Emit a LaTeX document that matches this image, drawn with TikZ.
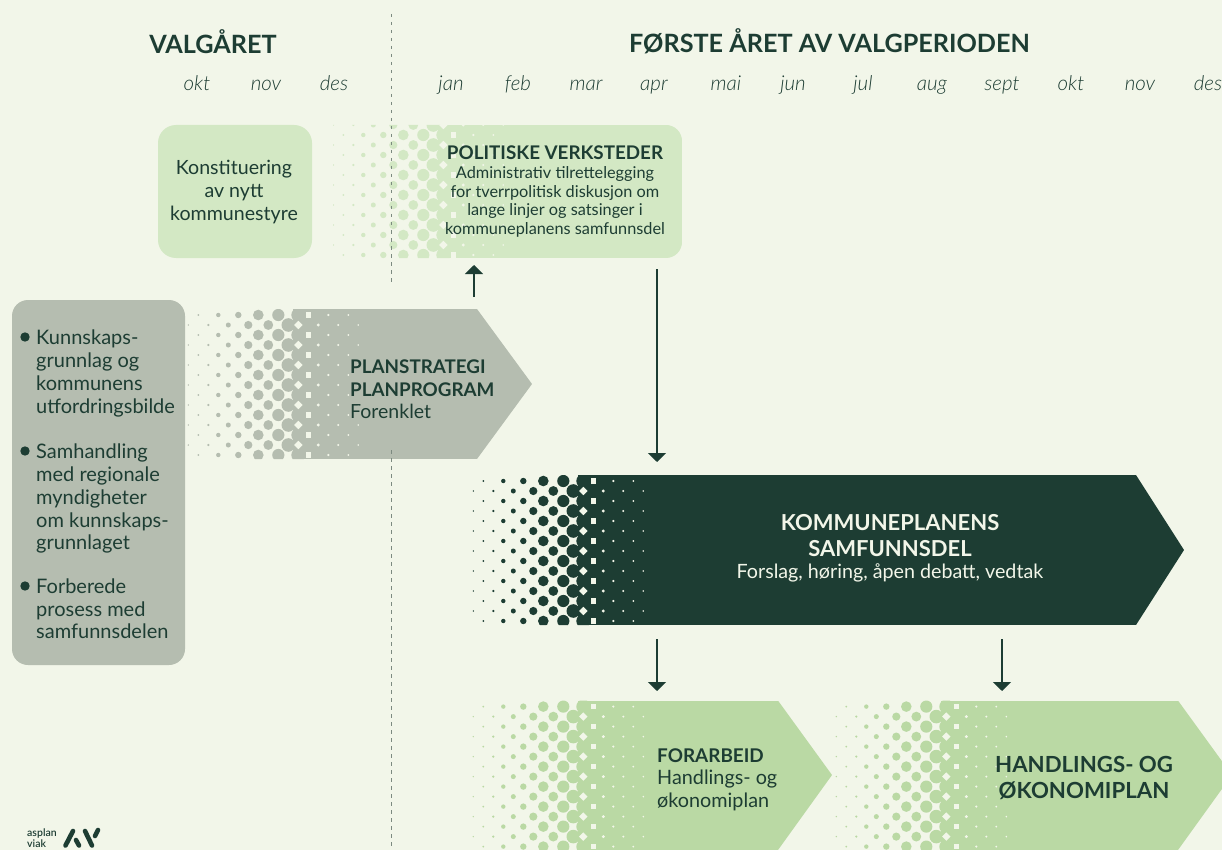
\documentclass[tikz,border=0pt]{standalone}
\usepackage{fontspec}
\setmainfont{Lato}
\newfontfamily\lightit{Lato Light Italic}
\newfontfamily\semib{Lato Semibold}
\usetikzlibrary{arrows.meta}
\definecolor{bgc}{HTML}{F2F6E9}
\definecolor{darkc}{HTML}{1D3D33}
\definecolor{grayc}{HTML}{B5BDB0}
\definecolor{lightc}{HTML}{D3E8C4}
\definecolor{midc}{HTML}{BAD9A4}
\definecolor{dashc}{HTML}{7C8A80}
\newcommand{\fs}[2]{\fontsize{#1}{#2}\selectfont}
% x0, first row y, rows, parity, colour
\newcommand{\halftone}[5]{%
  \foreach \i/\r in {0/.8,1/1,2/1.2,3/2.2,4/2.5,5/3.2,6/4.1,7/5.3,8/4.9,9/6.1,10/6.8,11/7}{%
    \foreach \j in {0,...,\numexpr#3-1\relax}{%
      \pgfmathtruncatemacro{\p}{mod(\i+\j+#4,2)}%
      \ifnum\p=1 \fill[#5] ({#1+10*\i},{#2+10*\j}) circle[radius=\r];\fi
    }%
  }%
  \foreach \i/\h in {11/4.2,12/2.6,13/1.6,14/1.2,15/1.1,16/1,17/.9}{%
    \foreach \j in {0,...,\numexpr#3-1\relax}{%
      \pgfmathtruncatemacro{\p}{mod(\i+\j+#4,2)}%
      \ifnum\p=0
        \pgfmathsetmacro{\cx}{#1+10*\i}\pgfmathsetmacro{\cy}{#2+10*\j}%
        \ifnum\i=11
          \fill[bgc] (\cx,\cy-\h) .. controls (\cx+2.2,\cy-2.2) .. (\cx+\h,\cy) .. controls (\cx+2.2,\cy+2.2) .. (\cx,\cy+\h) .. controls (\cx-2.2,\cy+2.2) .. (\cx-\h,\cy) .. controls (\cx-2.2,\cy-2.2) .. (\cx,\cy-\h) -- cycle;
        \else
          \ifnum\i=12 \fill[bgc] (\cx-\h,\cy-\h) rectangle (\cx+\h,\cy+\h);
          \else \fill[bgc] (\cx,\cy) circle[radius=\h];\fi
        \fi
      \fi
    }%
  }%
}
\tikzset{
  txt/.style={inner sep=0pt,text=darkc},
  conn/.style={draw=darkc,line width=1.5pt,-{Triangle[width=18pt,length=9pt]}},
  vline/.style={draw=dashc,line width=1.5pt,dash pattern=on 3.5pt off 4.5pt},
  month/.style={txt,anchor=base,font=\fs{20.5}{24}\lightit},
  head/.style={txt,font=\fs{25.2}{30}\bfseries},
  logostroke/.style={draw=darkc,line width=4.6pt,line cap=round},
}
\begin{document}
\begin{tikzpicture}[x=1pt,y=-1pt]
\useasboundingbox (0,0) rectangle (1222,850);
\fill[bgc] (0,0) rectangle (1222,850);

% Konstituering box
\node[fill=lightc,rounded corners=18pt,minimum width=154pt,minimum height=133pt,inner sep=0pt] (konstbox) at (235,191.5) {};
\node[txt,align=center,font=\fs{19.6}{22.6}] (konst) at (234,192) {Konstituering\\av nytt\\kommunestyre};

% Politiske verksteder
\begin{scope}
  \clip (333,125) -- (666,125) arc[start angle=-90,end angle=0,radius=16] -- (682,242) arc[start angle=0,end angle=90,radius=16] -- (333,258) -- cycle;
  \fill[lightc] (438,125) rectangle (682,258);
  \halftone{333.3}{125}{14}{1}{lightc}
\end{scope}
\node[txt,font=\fs{18.8}{22}\bfseries] (pvh) at (555,153) {POLITISKE VERKSTEDER};
\node[txt,align=center,font=\fs{16.3}{18.7}] (pvb) at (555,202) {Administrativ tilrettelegging\\for tverrpolitisk diskusjon om\\lange linjer og satsinger i\\kommuneplanens samfunnsdel};

% Left box
\node[fill=grayc,rounded corners=16pt,minimum width=173pt,minimum height=365pt,inner sep=0pt] (leftbox) at (98.5,482.5) {};
\fill[darkc] (25,337) circle[radius=4.7];
\fill[darkc] (25,451) circle[radius=4.7];
\fill[darkc] (25,586) circle[radius=4.7];
\node[txt,anchor=north west,align=left,font=\fs{20}{22.7}] (b1) at (36,330) {Kunnskaps-\\grunnlag og\\kommunens\\utfordringsbilde};
\node[txt,anchor=north west,align=left,font=\fs{20}{22.7}] (b2) at (36,444) {Samhandling\\med regionale\\myndigheter\\om kunnskaps-\\grunnlaget};
\node[txt,anchor=north west,align=left,font=\fs{20}{22.7}] (b3) at (36,578.5) {Forberede\\prosess med\\samfunnsdelen};

% Planstrategi arrow
\begin{scope}
  \clip (180,309) -- (477,309) -- (532,384) -- (477,459) -- (180,459) -- cycle;
  \fill[grayc] (293.3,309) rectangle (532,459);
  \halftone{188.3}{315}{15}{0}{grayc}
\end{scope}
\node[txt,anchor=west,align=left,font=\fs{19.5}{22.6}] (plan) at (350,389.5) {{\fontsize{18.8}{22.6}\selectfont\bfseries PLANSTRATEGI}\\{\fontsize{18.8}{22.6}\selectfont\bfseries PLANPROGRAM}\\Forenklet};

% Kommuneplanens samfunnsdel arrow
\begin{scope}
  \clip (465,475) -- (1136,475) -- (1184,550) -- (1136,625) -- (465,625) -- cycle;
  \fill[darkc] (578.3,475) rectangle (1184,625);
  \halftone{473.3}{481}{15}{0}{darkc}
\end{scope}
\node[text=bgc,inner sep=0pt,align=center,font=\fs{22}{26}\bfseries] (kp) at (890,536) {KOMMUNEPLANENS\\SAMFUNNSDEL};
\node[text=bgc,inner sep=0pt,font=\fs{19.7}{23}] (kpb) at (890,573) {Forslag, høring, åpen debatt, vedtak};

% Forarbeid arrow
\begin{scope}
  \clip (465,700.6) -- (778,700.6) -- (832,775) -- (778,850) -- (465,850) -- cycle;
  \fill[midc] (578.3,700.6) rectangle (832,850);
  \halftone{473.3}{706.6}{15}{0}{midc}
\end{scope}
\node[txt,anchor=west,align=left,font=\fs{19.8}{22.6}] (fa) at (657,779.5) {{\fontsize{18.9}{22.6}\selectfont\bfseries FORARBEID}\\Handlings- og\\økonomiplan};

% Handlings arrow
\begin{scope}
  \clip (828,700.6) -- (1178,700.6) -- (1232,775) -- (1178,850) -- (828,850) -- cycle;
  \fill[midc] (941.3,700.6) rectangle (1232,850);
  \halftone{836.3}{706.6}{15}{0}{midc}
\end{scope}
\node[txt,align=center,font=\fs{22.2}{26}\bfseries] (hp) at (1084,777.5) {HANDLINGS- OG\\ØKONOMIPLAN};

% Dashed divider
\coordinate (d1a) at (391.5,14);
\coordinate (d1b) at (391.5,283);
\coordinate (d2a) at (391.5,450);
\coordinate (d2b) at (391.5,850);
\draw[vline] (d1a) -- (d1b);
\draw[vline] (d2a) -- (d2b);

% Connectors
\coordinate (c1a) at (474,297);
\coordinate (c1b) at (474,265);
\coordinate (c2a) at (657,269);
\coordinate (c2b) at (657,462);
\coordinate (c3a) at (657,639);
\coordinate (c3b) at (657,691);
\coordinate (c4a) at (1002,639);
\coordinate (c4b) at (1002,691);
\draw[conn] (c1a) -- (c1b);
\draw[conn] (c2a) -- (c2b);
\draw[conn] (c3a) -- (c3b);
\draw[conn] (c4a) -- (c4b);

% Headings
\node[head] (h1) at (213,41.5) {VALGÅRET};
\node[head] (h2) at (829.5,41.5) {FØRSTE ÅRET AV VALGPERIODEN};
\foreach \n/\x/\t in {m1/197/okt,m2/266/nov,m3/334/des,m4/451/jan,m5/518/feb,m6/586/mar,m7/654/apr,m8/726/mai,m9/793/jun,m10/863/jul,m11/932/aug,m12/1002/sept,m13/1071/okt,m14/1140/nov,m15/1208/des}
  \node[month] (\n) at (\x,90.5) {\t};

% Logo
\node[txt,anchor=west,align=left,font=\fs{10.5}{11.5}\semib] (logo) at (27,838) {asplan\\viak};
\draw[logostroke] (65.5,845.5) -- (73,831);
\draw[logostroke] (76,840) -- (79,845.5);
\draw[logostroke] (85,831) -- (92,845.5);
\draw[logostroke] (95,836) -- (98,830);
\end{tikzpicture}
\end{document}
